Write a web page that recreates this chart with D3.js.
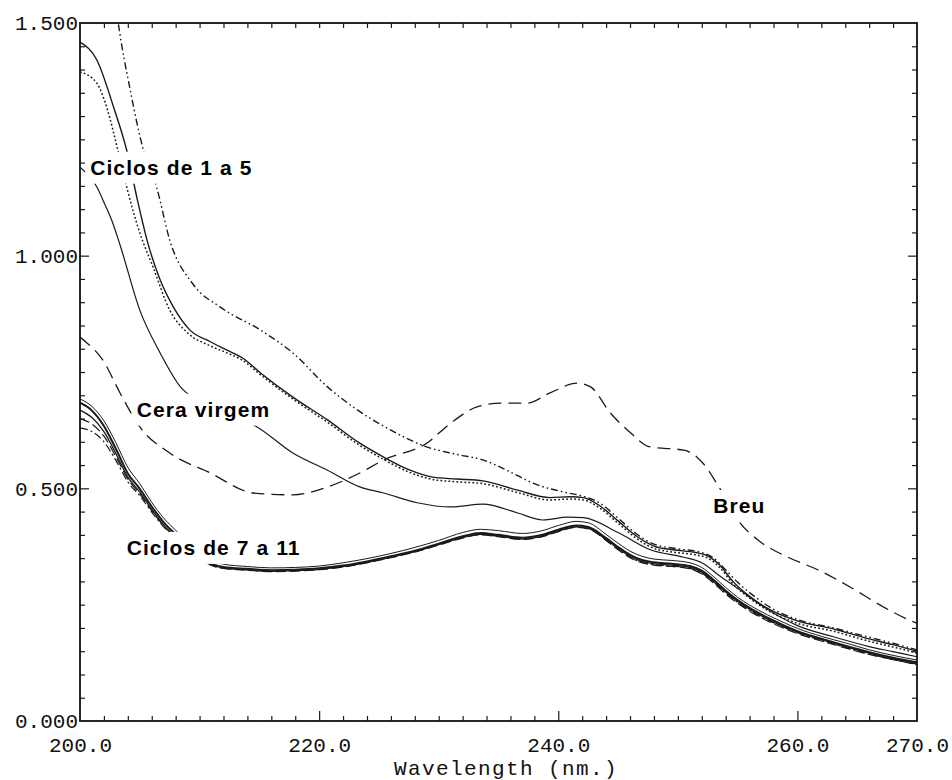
<!DOCTYPE html>
<html>
<head>
<meta charset="utf-8">
<script src="https://cdn.jsdelivr.net/npm/d3@7"></script>
<style>
  html, body { margin: 0; padding: 0; background: #fff; }
  svg { display: block; }
  .tick-label { font-family: "Liberation Mono", "Courier New", monospace; font-size: 21px; fill: #111; }
  .axis-title { font-family: "Liberation Mono", "Courier New", monospace; font-size: 21px; letter-spacing: 1.4px; fill: #111; }
  .curve-label { font-family: "Liberation Sans", Arial, sans-serif; font-weight: bold; font-size: 21px; letter-spacing: 1.1px; fill: #000; }
</style>
</head>
<body>
<svg id="chart" width="952" height="780"></svg>
<script>
// UV absorption spectra, wavelength (nm) vs absorbance

// Cycles 1 to 5
const ciclos1a5TracoPonto = [
  [202.6, 1.62], [203.2, 1.50], [204.2, 1.356], [205.3, 1.227], [206.4, 1.148], [207.5, 1.034],
  [209.5, 0.937], [211.7, 0.890], [215.1, 0.840], [217.8, 0.791], [220.7, 0.718], [223.0, 0.672],
  [226.0, 0.625], [229.0, 0.589], [231.5, 0.573], [233.7, 0.561], [236.0, 0.535], [237.9, 0.511],
  [240.8, 0.490], [242.1, 0.483], [243.5, 0.468], [245.0, 0.436], [246.5, 0.403], [248.0, 0.380],
  [250.0, 0.370], [252.0, 0.362], [253.0, 0.350], [254.0, 0.325], [255.0, 0.298], [256.5, 0.266],
  [258.0, 0.240], [260.0, 0.218], [263.0, 0.200], [266.0, 0.180], [268.0, 0.167], [270.0, 0.153]
];
const ciclos1a5Continua = [
  [200.0, 1.459], [201.4, 1.421], [202.8, 1.320], [203.9, 1.227], [204.8, 1.120], [205.6, 1.034],
  [206.7, 0.948], [207.8, 0.890], [209.2, 0.840], [210.9, 0.815], [212.3, 0.797], [213.6, 0.780],
  [215.1, 0.748], [217.8, 0.696], [220.7, 0.647], [223.4, 0.597], [225.4, 0.567], [227.5, 0.540],
  [229.5, 0.524], [231.5, 0.520], [233.7, 0.516], [236.6, 0.496], [239.3, 0.480], [241.0, 0.482],
  [242.1, 0.480], [243.5, 0.462], [245.0, 0.430], [246.5, 0.398], [248.0, 0.376], [249.6, 0.368],
  [251.5, 0.362], [252.5, 0.355], [253.5, 0.335], [254.6, 0.300], [256.0, 0.268], [257.5, 0.242],
  [260.0, 0.215], [263.0, 0.198], [265.9, 0.177], [268.0, 0.164], [270.0, 0.150]
];
const ciclos1a5Pontilhada = [
  [200.0, 1.395], [201.4, 1.371], [202.3, 1.313], [203.1, 1.234], [203.9, 1.148], [205.0, 1.049],
  [206.1, 0.976], [207.5, 0.883], [209.0, 0.834], [210.9, 0.806], [212.3, 0.791], [213.6, 0.775],
  [215.1, 0.744], [217.8, 0.692], [220.7, 0.642], [223.4, 0.592], [225.4, 0.562], [227.5, 0.535],
  [229.5, 0.519], [231.5, 0.514], [233.7, 0.510], [236.6, 0.491], [239.3, 0.475], [241.0, 0.477],
  [242.1, 0.475], [243.5, 0.457], [245.0, 0.425], [246.5, 0.393], [248.0, 0.371], [249.6, 0.363],
  [251.5, 0.357], [252.5, 0.350], [253.5, 0.330], [254.6, 0.295], [256.0, 0.264], [257.5, 0.238],
  [260.0, 0.210], [263.0, 0.193], [265.9, 0.172], [268.0, 0.159], [270.0, 0.146]
];

// Virgin wax
const ceraVirgem = [
  [200.0, 1.190], [201.4, 1.148], [202.1, 1.109], [202.7, 1.073], [203.35, 1.023], [205.0, 0.883],
  [206.7, 0.791], [208.4, 0.718], [210.0, 0.686], [212.0, 0.662], [214.8, 0.632], [217.8, 0.576],
  [220.7, 0.539], [223.4, 0.503], [225.4, 0.490], [228.2, 0.469], [231.0, 0.460], [233.7, 0.466],
  [236.6, 0.447], [238.7, 0.432], [240.8, 0.438], [242.1, 0.437], [245.0, 0.405], [247.7, 0.368],
  [250.5, 0.352], [252.0, 0.340], [253.6, 0.310], [255.0, 0.285], [257.0, 0.248], [260.0, 0.205],
  [263.0, 0.181], [266.0, 0.160], [268.0, 0.149], [270.0, 0.138]
];

// Rosin
const breu = [
  [200.0, 0.825], [200.6, 0.812], [201.9, 0.776], [203.35, 0.705], [205.0, 0.632], [207.5, 0.576],
  [210.9, 0.533], [214.5, 0.490], [217.8, 0.486], [220.7, 0.503], [223.4, 0.533], [225.4, 0.561],
  [229.0, 0.597], [231.0, 0.640], [233.2, 0.675], [235.2, 0.683], [237.4, 0.683], [239.3, 0.705],
  [241.6, 0.726], [242.7, 0.718], [244.35, 0.662], [245.8, 0.625], [247.7, 0.589], [250.5, 0.582],
  [251.6, 0.567], [252.1, 0.554], [253.6, 0.496], [255.2, 0.426], [256.7, 0.389], [259.2, 0.352],
  [261.7, 0.325], [264.4, 0.288], [267.2, 0.245], [269.7, 0.213], [270.0, 0.210]
];

// Cycles 7 to 11
const ciclo7 = [
  [200,0.692],[201,0.676],[202,0.645],[203,0.598],[204,0.545],[205,0.510],[206,0.470],[207,0.436],
  [208,0.410],[210,0.360],[212,0.337],[214,0.332],[216,0.329],[218,0.330],[220,0.333],[222,0.340],
  [224,0.349],[226,0.360],[228,0.373],[230,0.388],[232,0.405],[233.5,0.412],[235,0.409],[237,0.403],
  [238.5,0.408],[240,0.420],[241.5,0.429],[242.5,0.426],[244,0.401],[245,0.382],[246,0.365],[247,0.354],
  [248,0.348],[249.5,0.345],[251,0.340],[252,0.330],[253,0.310],[254,0.287],[255,0.266],[256,0.249],
  [257.5,0.228],[259,0.210],[260,0.199],[262,0.182],[264,0.168],[266,0.153],[268,0.141],[270,0.131]
];
const ciclo8 = [
  [200,0.684],[201,0.667],[202,0.634],[203,0.585],[204,0.532],[205,0.499],[206,0.461],[207,0.427],
  [208,0.401],[210,0.352],[212,0.331],[214,0.327],[216,0.324],[218,0.325],[220,0.328],[222,0.334],
  [224,0.343],[226,0.354],[228,0.366],[230,0.381],[232,0.397],[233.5,0.404],[235,0.400],[237,0.394],
  [238.5,0.399],[240,0.411],[241.5,0.420],[242.5,0.417],[244,0.393],[245,0.374],[246,0.357],[247,0.346],
  [248,0.341],[249.5,0.338],[251,0.333],[252,0.323],[253,0.303],[254,0.280],[255,0.260],[256,0.243],
  [257.5,0.222],[259,0.204],[260,0.193],[262,0.177],[264,0.162],[266,0.148],[268,0.136],[270,0.126]
];
const ciclo9 = [
  [200,0.668],[201,0.652],[202,0.622],[203,0.575],[204,0.524],[205,0.492],[206,0.455],[207,0.421],
  [208,0.396],[210,0.349],[212,0.329],[214,0.325],[216,0.322],[218,0.323],[220,0.326],[222,0.332],
  [224,0.341],[226,0.352],[228,0.364],[230,0.379],[232,0.394],[233.5,0.401],[235,0.397],[237,0.391],
  [238.5,0.396],[240,0.408],[241.5,0.417],[242.5,0.414],[244,0.390],[245,0.371],[246,0.354],[247,0.343],
  [248,0.338],[249.5,0.335],[251,0.330],[252,0.320],[253,0.300],[254,0.277],[255,0.257],[256,0.240],
  [257.5,0.219],[259,0.201],[260,0.191],[262,0.175],[264,0.160],[266,0.146],[268,0.134],[270,0.124]
];
const ciclo10 = [
  [200,0.650],[201,0.638],[202,0.612],[203,0.568],[204,0.520],[205,0.488],[206,0.452],[207,0.419],
  [208,0.394],[210,0.348],[212,0.328],[214,0.324],[216,0.321],[218,0.322],[220,0.325],[222,0.331],
  [224,0.340],[226,0.351],[228,0.363],[230,0.378],[232,0.393],[233.5,0.400],[235,0.396],[237,0.390],
  [238.5,0.395],[240,0.407],[241.5,0.416],[242.5,0.413],[244,0.388],[245,0.368],[246,0.351],[247,0.340],
  [248,0.335],[249.5,0.332],[251,0.327],[252,0.316],[253,0.296],[254,0.273],[255,0.253],[256,0.236],
  [257.5,0.215],[259,0.198],[260,0.188],[262,0.172],[264,0.157],[266,0.143],[268,0.132],[270,0.122]
];
const ciclo11 = [
  [200,0.630],[201,0.622],[202,0.600],[203,0.560],[204,0.514],[205,0.484],[206,0.449],[207,0.417],
  [208,0.392],[210,0.347],[212,0.328],[214,0.325],[216,0.322],[218,0.323],[220,0.326],[222,0.332],
  [224,0.341],[226,0.352],[228,0.365],[230,0.380],[232,0.395],[233.5,0.402],[235,0.398],[237,0.392],
  [238.5,0.397],[240,0.409],[241.5,0.418],[242.5,0.415],[244,0.390],[245,0.370],[246,0.352],[247,0.341],
  [248,0.336],[249.5,0.333],[251,0.328],[252,0.318],[253,0.298],[254,0.275],[255,0.255],[256,0.238],
  [257.5,0.217],[259,0.200],[260,0.190],[262,0.173],[264,0.158],[266,0.144],[268,0.132],[270,0.121]
];

// Axis ticks and labels
const xLabelTicks = [200, 220, 240, 260, 270];
const xMajorTicks = [220, 240, 260];
const yLabelTicks = [0, 0.5, 1.0, 1.5];
const xTitle = "Wavelength (nm.)";

// Text annotations: [text, wavelength, absorbance at baseline]
const annotations = [
  ["Ciclos de 1 a 5", 200.85, 1.174],
  ["Cera virgem", 204.75, 0.654],
  ["Ciclos de 7 a 11", 203.9, 0.357],
  ["Breu", 252.95, 0.447]
];

const svg = d3.select("#chart");
const plotLeft = 80, plotRight = 917, plotTop = 23, plotBottom = 721;

const x = d3.scaleLinear().domain([200, 270]).range([plotLeft, plotRight]);
const y = d3.scaleLinear().domain([0, 1.5]).range([plotBottom, plotTop]);

svg.append("defs").append("clipPath").attr("id", "plot-clip")
  .append("rect").attr("x", plotLeft).attr("y", plotTop)
  .attr("width", plotRight - plotLeft).attr("height", plotBottom - plotTop);

const line = d3.line()
  .x(d => x(d[0]))
  .y(d => y(d[1]))
  .curve(d3.curveMonotoneX);

const series = [
  { data: breu, width: 1.3, dash: "13,7" },
  { data: ciclo11, width: 1.2, dash: "8,3,2,3" },
  { data: ciclo10, width: 1.2, dash: "10,4" },
  { data: ciclo9, width: 1.3, dash: null },
  { data: ciclo8, width: 2.0, dash: null },
  { data: ciclo7, width: 1.0, dash: null },
  { data: ceraVirgem, width: 1.2, dash: null },
  { data: ciclos1a5Pontilhada, width: 1.5, dash: "1.8,2.2" },
  { data: ciclos1a5Continua, width: 1.4, dash: null },
  { data: ciclos1a5TracoPonto, width: 1.4, dash: "7,3,1.6,3,1.6,3" }
];

const plot = svg.append("g").attr("clip-path", "url(#plot-clip)");
plot.selectAll("path.curve")
  .data(series)
  .join("path")
  .attr("class", "curve")
  .attr("d", s => line(s.data))
  .attr("fill", "none")
  .attr("stroke", "#1a1a1a")
  .attr("stroke-width", s => s.width)
  .attr("stroke-dasharray", s => s.dash);

// Ticks: minor every 2 nm / 0.05, longer at the major values, all pointing inward
const xMinor = d3.range(202, 270, 2).filter(v => !xMajorTicks.includes(v));
const yMinor = d3.range(0.05, 1.5, 0.05).filter(v => Math.abs(v - 0.5) > 1e-6 && Math.abs(v - 1.0) > 1e-6);
const yMajor = [0.5, 1.0];

function tickGroup(axis, transform) {
  const g = svg.append("g").attr("transform", transform).call(axis);
  g.select(".domain").remove();
  g.selectAll(".tick line").attr("stroke", "#1a1a1a").attr("stroke-width", 1.2);
  return g;
}

tickGroup(d3.axisBottom(x).tickValues(xMinor).tickSize(-5).tickFormat(""), `translate(0,${plotBottom})`);
tickGroup(d3.axisBottom(x).tickValues(xMajorTicks).tickSize(-10).tickFormat(""), `translate(0,${plotBottom})`);
tickGroup(d3.axisTop(x).tickValues(xMinor.concat(xMajorTicks)).tickSize(-5).tickFormat(""), `translate(0,${plotTop})`);
tickGroup(d3.axisLeft(y).tickValues(yMinor).tickSize(-5).tickFormat(""), `translate(${plotLeft},0)`);
tickGroup(d3.axisLeft(y).tickValues(yMajor).tickSize(-9).tickFormat(""), `translate(${plotLeft},0)`);
tickGroup(d3.axisRight(y).tickValues(yMinor).tickSize(-5).tickFormat(""), `translate(${plotRight},0)`);
tickGroup(d3.axisRight(y).tickValues(yMajor).tickSize(-9).tickFormat(""), `translate(${plotRight},0)`);

// Tick labels
const xLab = svg.append("g").attr("transform", `translate(0,${plotBottom})`)
  .call(d3.axisBottom(x).tickValues(xLabelTicks).tickSize(0).tickPadding(16).tickFormat(d3.format(".1f")));
xLab.select(".domain").remove();
xLab.attr("font-size", null).attr("font-family", null);
xLab.selectAll("text").attr("class", "tick-label");

const yLab = svg.append("g").attr("transform", `translate(${plotLeft},0)`)
  .call(d3.axisLeft(y).tickValues(yLabelTicks).tickSize(0).tickPadding(2).tickFormat(d3.format(".3f")));
yLab.select(".domain").remove();
yLab.attr("font-size", null).attr("font-family", null);
yLab.selectAll("text").attr("class", "tick-label");

// Frame
svg.append("rect")
  .attr("x", plotLeft).attr("y", plotTop)
  .attr("width", plotRight - plotLeft).attr("height", plotBottom - plotTop)
  .attr("fill", "none").attr("stroke", "#111").attr("stroke-width", 1.8);

// Axis title
svg.append("text")
  .attr("class", "axis-title")
  .attr("x", 506).attr("y", 775)
  .attr("text-anchor", "middle")
  .text(xTitle);

// Curve annotations on white boxes that mask the lines beneath
const ann = svg.append("g");
annotations.forEach(([txt, wl, ab]) => {
  const g = ann.append("g");
  const rect = g.append("rect").attr("fill", "#fff");
  const t = g.append("text").attr("class", "curve-label")
    .attr("x", x(wl)).attr("y", y(ab)).text(txt);
  const bb = t.node().getBBox();
  rect.attr("x", bb.x - 5).attr("y", bb.y - 4)
    .attr("width", bb.width + 10).attr("height", bb.height + 9);
});
</script>
</body>
</html>
